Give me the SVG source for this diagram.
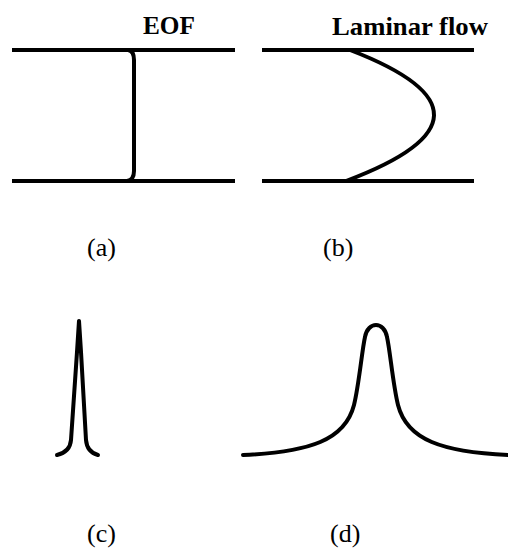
<svg xmlns="http://www.w3.org/2000/svg" width="508" height="552" viewBox="0 0 508 552">
  <style>
    .wall { stroke: #000; stroke-width: 4; fill: none; }
    .curve { stroke: #000; stroke-width: 4; fill: none; stroke-linecap: round; stroke-linejoin: round; }
    .head { font-family: "Liberation Serif", "Times New Roman", serif; font-weight: bold; font-size: 26px; fill: #000; }
    .lab { font-family: "Liberation Serif", "Times New Roman", serif; font-size: 26px; fill: #000; }
  </style>
  <rect width="508" height="552" fill="#fff"/>
  <g id="panel-a">
    <text class="head" x="143" y="34" textLength="52" lengthAdjust="spacingAndGlyphs">EOF</text>
    <line class="wall" x1="12" y1="50" x2="235" y2="50"/>
    <line class="wall" x1="12" y1="181" x2="235" y2="181"/>
    <path class="curve" d="M128,50 Q134,51 134,60 L134,171 Q134,180 127,181"/>
    <text class="lab" x="87" y="256">(a)</text>
  </g>
  <g id="panel-b">
    <text class="head" x="332" y="35" textLength="156" lengthAdjust="spacingAndGlyphs">Laminar flow</text>
    <line class="wall" x1="262" y1="50" x2="474" y2="50"/>
    <line class="wall" x1="262" y1="181" x2="474" y2="181"/>
    <path class="curve" d="M350,50 Q520,115.5 346,181"/>
    <text class="lab" x="323" y="256">(b)</text>
  </g>
  <g id="panel-c">
    <path class="curve" d="M57,455 Q70,452 71,440 L77,352 L79,321 L81,352 L86,440 Q87,452 98,455"/>
    <text class="lab" x="87" y="542">(c)</text>
  </g>
  <g id="panel-d">
    <path class="curve" d="M243,455 C310,452 345,440 354,405 C359,385 362,350 365,337 C368,321 384,321 387,337 C390,350 393,385 398,405 C407,440 442,452 509,455"/>
    <text class="lab" x="330" y="542">(d)</text>
  </g>
  <g id="connectors"></g>
</svg>
